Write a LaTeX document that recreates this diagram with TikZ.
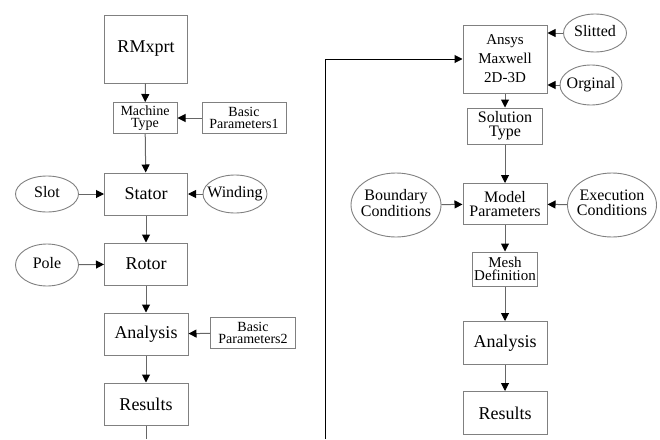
\documentclass[tikz,border=0pt]{standalone}
\usepackage{fontspec}
\setmainfont{Liberation Serif}
\usetikzlibrary{shapes.geometric,arrows.meta}
\newcommand{\squeeze}[1]{\makebox[0pt]{\begin{tabular}{@{}c@{}}#1\end{tabular}}}
\tikzset{
  blk/.style={draw=black!50,line width=1pt,fill=white,inner sep=0pt,align=center,font=\fontsize{18}{18}\selectfont},
  smallblk/.style={blk,font=\fontsize{14}{12.5}\selectfont},
  oval/.style={ellipse,draw=black!50,line width=0.9pt,inner sep=0pt,font=\fontsize{16}{14}\selectfont},
  arr/.style={draw=black!60,line width=1pt,-{Triangle[length=8pt,width=8pt,color=black,fill=black]}},
}
\begin{document}
\begin{tikzpicture}[x=1pt,y=-1pt]
  \useasboundingbox (0,0) rectangle (660,439);
  % RMxprt branch
  \node[blk,minimum width=83pt,minimum height=68pt] (rmx) at (146,49) {RMxprt};
  \node[smallblk,minimum width=64pt,minimum height=31pt] (mtype) at (145,118) {Machine\\Type};
  \node[smallblk,minimum width=84pt,minimum height=31pt] (bp1) at (244,118) {Basic\\Parameters1};
  \node[blk,minimum width=83pt,minimum height=42pt] (stator) at (146,194) {Stator};
  \node[oval,minimum width=63pt,minimum height=36pt] (slot) at (47,194) {\squeeze{Slot}};
  \node[oval,minimum width=64pt,minimum height=38pt] (winding) at (235,194) {\squeeze{Winding}};
  \node[blk,minimum width=83pt,minimum height=42pt] (rotor) at (146,264) {Rotor};
  \node[oval,minimum width=63pt,minimum height=42pt] (pole) at (47,265) {\squeeze{Pole}};
  \node[blk,minimum width=84pt,minimum height=42pt] (lanal) at (146,334) {Analysis};
  \node[smallblk,minimum width=85pt,minimum height=31pt] (bp2) at (253,333) {Basic\\Parameters2};
  \node[blk,minimum width=84pt,minimum height=42pt] (lres) at (146,404) {Results};
  \coordinate (lend) at (146,439);
  \draw[arr] (rmx) -- (mtype);
  \draw[arr] (bp1) -- (mtype);
  \draw[arr] (mtype) -- (stator);
  \draw[arr] (slot) -- (stator);
  \draw[arr] (winding) -- (stator);
  \draw[arr] (stator) -- (rotor);
  \draw[arr] (pole) -- (rotor);
  \draw[arr] (rotor) -- (lanal);
  \draw[arr] (bp2) -- (lanal);
  \draw[arr] (lanal) -- (lres);
  \draw[draw=black!60,line width=1pt] (lres) -- (lend);
  % Maxwell branch
  \node[blk,font=\fontsize{15}{19}\selectfont,minimum width=84pt,minimum height=68pt] (ansys) at (505,59) {Ansys\\Maxwell\\2D-3D};
  \node[oval,minimum width=63pt,minimum height=38pt] (slit) at (595,33) {\squeeze{Slitted}};
  \node[oval,minimum width=62pt,minimum height=40pt] (orig) at (591,85) {\squeeze{Orginal}};
  \node[blk,font=\fontsize{16}{14}\selectfont,minimum width=75pt,minimum height=36pt] (sol) at (505,126) {Solution\\Type};
  \node[blk,font=\fontsize{16}{14}\selectfont,minimum width=84pt,minimum height=41pt] (model) at (505,204) {Model\\Parameters};
  \node[oval,minimum width=90pt,minimum height=64pt] (bound) at (396,205) {\squeeze{Boundary\\Conditions}};
  \node[oval,minimum width=89pt,minimum height=64pt] (exec) at (612,205) {\squeeze{Execution\\Conditions}};
  \node[blk,font=\fontsize{15}{12.5}\selectfont,minimum width=65pt,minimum height=34pt] (mesh) at (505,269) {Mesh\\Definition};
  \node[blk,minimum width=84pt,minimum height=43pt] (ranal) at (505,343) {Analysis};
  \node[blk,minimum width=84pt,minimum height=43pt] (rres) at (505,413) {Results};
  \coordinate (loopfoot) at (325,439);
  \coordinate (loopknee) at (325,59);
  \draw[arr,draw=black] (loopfoot) -- (loopknee) -- (ansys.west);
  \draw[arr] (slit) -- (slit -| ansys.east);
  \draw[arr] (orig) -- (orig -| ansys.east);
  \draw[arr] (ansys) -- (sol);
  \draw[arr] (sol) -- (model);
  \draw[arr] (bound) -- (model);
  \draw[arr] (exec) -- (model);
  \draw[arr] (model) -- (mesh);
  \draw[arr] (mesh) -- (ranal);
  \draw[arr] (ranal) -- (rres);
\end{tikzpicture}
\end{document}
